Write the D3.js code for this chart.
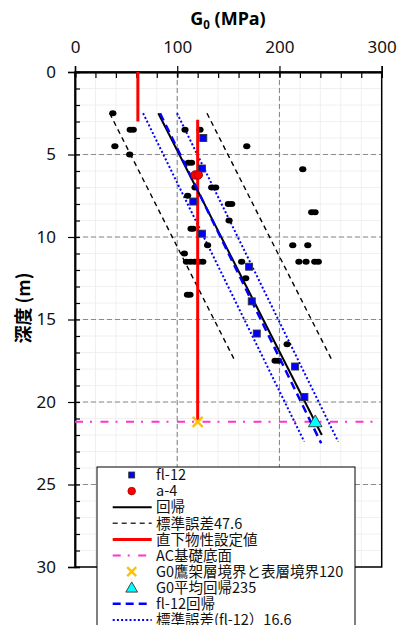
<!DOCTYPE html>
<html><head><meta charset="utf-8">
<script src="https://cdn.jsdelivr.net/npm/d3@7/dist/d3.min.js"></script>
<style>body{margin:0;background:#fff}svg{display:block}</style>
</head><body><svg id="c" width="400" height="625"></svg>
<script>
// ---- data ----
const xTicks = [0, 100, 200, 300];
const yTicks = [0, 5, 10, 15, 20, 25, 30];
// all measured points (black dots)
const dotDepth = [2.5, 3.5, 3.5, 3.5, 3.5, 4.5, 4.5, 5.0, 5.5, 5.5, 5.9, 7.0, 7.0, 7.0, 7.5, 8.0, 8.0, 8.5, 8.5, 9.0, 9.5, 9.5, 10.5, 10.5, 10.5, 11.0, 11.5, 11.5, 11.5, 11.5, 11.5, 11.5, 11.5, 11.5, 11.5, 11.5, 12.5, 13.5, 13.5, 16.5, 17.5, 17.5];
const dotG     = [37, 54, 57, 107.6, 122.3, 39, 168, 53.5, 111, 114, 222.8, 117.4, 133.7, 137.6, 110.2, 150, 153.3, 231.5, 234.8, 150.7, 113.5, 115.5, 129.7, 213, 227.7, 107, 109, 113, 117, 121, 125, 163, 219, 226, 234.5, 238, 167, 110, 112.5, 207.5, 195.7, 199];
// fl-12
const flDepth = [4.0, 5.85, 7.85, 9.8, 11.8, 13.9, 15.85, 17.85, 19.7];
const flG     = [125.5, 124.2, 115.7, 124.2, 170.3, 172.9, 177.8, 215.3, 224.4];
// a-4
const a4Depth = [6.24, 6.24];
const a4G     = [117.4, 120.6];
// regression (all)
const regDepth = [2.5, 22.0];
const regG     = [81.5, 241.4];
// standard error 47.6
const seDepth  = [2.5, 17.5];
const seLowG   = [33.9, 156.4];
const seHighG  = [129.1, 251.6];
// design value (red step)
const designTopDepth = [0, 3.0];
const designTopG     = [61.5, 61.5];
const designDepth    = [2.9, 21.2];
const designG        = [120, 120];
// AC base level
const acDepth = 21.2;
const acG     = [0, 293];
// boundary X and mean triangle
const crossPt = {g: 120, d: 21.2};
const triPt   = {g: 235, d: 21.2};
// fl-12 regression and its standard error 16.6
const flRegDepth = [2.5, 22.5];
const flRegG     = [83.2, 240.8];
const flSeDepth  = [2.5, 22.4];
const flSeLowG   = [66.6, 224.2];
const flSeHighG  = [99.8, 257.4];
const legendLabels = ["fl-12", "a-4", "回帰", "標準誤差47.6", "直下物性設定値", "AC基礎底面", "G0鷹架層境界と表層境界120", "G0平均回帰235", "fl-12回帰", "標準誤差(fl-12）16.6"];

// ---- chart ----
const svg = d3.select("#c");
const L = 75, R = 381.7, T = 72, B = 567;
const x = d3.scaleLinear().domain([0, 300]).range([L, R]);
const y = d3.scaleLinear().domain([0, 30]).range([T, B]);
const tickFont = "'Noto Sans', sans-serif";
const cjk = "'Noto Sans CJK JP', 'Noto Sans', sans-serif";

svg.append("rect").attr("x", L).attr("y", T).attr("width", R - L).attr("height", B - T).attr("fill", "#fff");

// minor grid
const minorX = d3.range(0, 301, 20), minorY = d3.range(0, 31, 1);
const g = svg.append("g");
g.selectAll(".mx").data(minorX).join("line").attr("x1", d => x(d)).attr("x2", d => x(d)).attr("y1", T).attr("y2", B).attr("stroke", "#ececec").attr("stroke-width", 0.8);
g.selectAll(".my").data(minorY).join("line").attr("y1", d => y(d)).attr("y2", d => y(d)).attr("x1", L).attr("x2", R).attr("stroke", "#ececec").attr("stroke-width", 0.8);
// major grid
g.selectAll(".Mx").data([100, 200]).join("line").attr("x1", d => x(d)).attr("x2", d => x(d)).attr("y1", T).attr("y2", B).attr("stroke", "#8a8a8a").attr("stroke-width", 1.1).attr("stroke-dasharray", "5,3");
g.selectAll(".My").data([5, 10, 15, 20, 25]).join("line").attr("y1", d => y(d)).attr("y2", d => y(d)).attr("x1", L).attr("x2", R).attr("stroke", "#8a8a8a").attr("stroke-width", 1.1).attr("stroke-dasharray", "5,3");

// frame
svg.append("rect").attr("x", L).attr("y", T).attr("width", R - L).attr("height", B - T).attr("fill", "none").attr("stroke", "#000").attr("stroke-width", 1.5);

// axes
svg.append("g").attr("transform", `translate(0,${T})`)
  .call(d3.axisTop(x).tickValues(xTicks).tickSize(6).tickPadding(13).tickFormat(d3.format("d")));
svg.append("g").attr("transform", `translate(0,${T})`)
  .call(d3.axisTop(x).tickValues(xTicks).tickSize(-5).tickFormat(""));
svg.append("g").attr("transform", `translate(0,${T})`)
  .call(d3.axisTop(x).tickValues(minorX).tickSize(-6).tickFormat(""));
svg.append("g").attr("transform", `translate(${L},0)`)
  .call(d3.axisLeft(y).tickValues(yTicks).tickSize(7).tickPadding(12).tickFormat(d3.format("d")));
svg.append("g").attr("transform", `translate(${L},0)`)
  .call(d3.axisLeft(y).tickValues(minorY).tickSize(-5).tickFormat(""));
svg.selectAll(".domain").attr("stroke", "#000").attr("stroke-width", 1.5);
svg.selectAll(".tick line").attr("stroke", "#000").attr("stroke-width", 1.2);
svg.selectAll(".tick text").attr("font-family", tickFont).attr("font-size", 17).attr("fill", "#111");

// titles
const tt = svg.append("text").attr("x", 228).attr("y", 25).attr("text-anchor", "middle")
  .attr("font-family", tickFont).attr("font-size", 18).attr("font-weight", "bold");
tt.append("tspan").text("G");
tt.append("tspan").text("0").attr("font-size", 11.5).attr("dy", 4);
tt.append("tspan").text(" (MPa)").attr("dy", -4);
svg.append("text").attr("transform", "translate(30,308) rotate(-90)").attr("text-anchor", "middle")
  .attr("font-family", cjk).attr("font-size", 18).attr("font-weight", "bold").text("深度 (m)");

const plot = svg.append("g");
const line2 = (gs, ds) => d3.line().x(d => x(d[0])).y(d => y(d[1]))(gs.map((v, i) => [v, ds[i]]));

// standard error (black dashed)
[seLowG, seHighG].forEach(arr => plot.append("path").attr("d", line2(arr, seDepth)).attr("fill", "none")
  .attr("stroke", "#000").attr("stroke-width", 1.4).attr("stroke-dasharray", "5,4"));
// fl-12 standard error dotted
[flSeLowG, flSeHighG].forEach(arr => plot.append("path").attr("d", line2(arr, flSeDepth)).attr("fill", "none")
  .attr("stroke", "#0000ff").attr("stroke-width", 2).attr("stroke-dasharray", "2,2.2"));
// AC base
plot.append("path").attr("d", line2(acG, [acDepth, acDepth])).attr("fill", "none")
  .attr("stroke", "#ff33cc").attr("stroke-width", 2).attr("stroke-dasharray", "8,7,2,8.5");

// black dots
plot.selectAll(".dot").data(dotG.map((v, i) => [v, dotDepth[i]])).join("ellipse")
  .attr("cx", d => x(d[0])).attr("cy", d => y(d[1])).attr("rx", 3.6).attr("ry", 3.0).attr("fill", "#000");

// red design lines
plot.append("path").attr("d", line2(designTopG, designTopDepth)).attr("fill", "none").attr("stroke", "#ff0000").attr("stroke-width", 3);
plot.append("path").attr("d", line2(designG, designDepth)).attr("fill", "none").attr("stroke", "#ff0000").attr("stroke-width", 3);

// regression black
plot.append("path").attr("d", line2(regG, regDepth)).attr("fill", "none").attr("stroke", "#000").attr("stroke-width", 2);
// fl-12 regression blue dashed
plot.append("path").attr("d", line2(flRegG, flRegDepth)).attr("fill", "none").attr("stroke", "#0000ff").attr("stroke-width", 2.5).attr("stroke-dasharray", "8,5");

// fl-12 squares
plot.selectAll(".sq").data(flG.map((v, i) => [v, flDepth[i]])).join("rect")
  .attr("x", d => x(d[0]) - 3.5).attr("y", d => y(d[1]) - 3.5).attr("width", 7).attr("height", 7)
  .attr("fill", "#0000ff").attr("stroke", "#333").attr("stroke-width", 0.9);
// a-4 circles
plot.selectAll(".a4").data(a4G.map((v, i) => [v, a4Depth[i]])).join("circle")
  .attr("cx", d => x(d[0])).attr("cy", d => y(d[1])).attr("r", 4.2).attr("fill", "#ff0000").attr("stroke", "#a00000").attr("stroke-width", 0.9);
// X
const drawX = (sel, cx, cy, s) => {
  sel.append("path").attr("d", `M${cx - s},${cy - s}L${cx + s},${cy + s}M${cx - s},${cy + s}L${cx + s},${cy - s}`)
    .attr("stroke", "#ffc000").attr("stroke-width", 2.4).attr("fill", "none");
};
drawX(plot, x(crossPt.g), y(crossPt.d), 5);
// triangle
const drawTri = (sel, cx, cy, sz) => sel.append("path").attr("d", d3.symbol().type(d3.symbolTriangle).size(sz)())
  .attr("transform", `translate(${cx},${cy + 1})`).attr("fill", "#00ffff").attr("stroke", "#333").attr("stroke-width", 0.9);
drawTri(plot, x(triPt.g), y(triPt.d), 80);

// legend
const lg = svg.append("g");
lg.append("rect").attr("x", 97).attr("y", 467).attr("width", 258).attr("height", 175).attr("fill", "#fff").attr("stroke", "#000").attr("stroke-width", 1);
const rowY = i => 475 + i * 16.1;
const sx = 131.7, lx1 = 112.7, lx2 = 151.7, tx = 156;
legendLabels.forEach((t, i) => {
  lg.append("text").attr("x", tx).attr("y", rowY(i)).attr("dy", "0.36em").attr("font-family", cjk).attr("font-size", 14.5).attr("fill", "#111").text(t);
});
lg.append("rect").attr("x", sx - 3).attr("y", rowY(0) - 3).attr("width", 6).attr("height", 6).attr("fill", "#0000ff").attr("stroke", "#333").attr("stroke-width", 0.8);
lg.append("circle").attr("cx", sx).attr("cy", rowY(1)).attr("r", 3.8).attr("fill", "#ff0000").attr("stroke", "#a00000").attr("stroke-width", 0.8);
const lgLine = (i, col, w, dash) => lg.append("line").attr("x1", lx1).attr("x2", lx2).attr("y1", rowY(i)).attr("y2", rowY(i))
  .attr("stroke", col).attr("stroke-width", w).attr("stroke-dasharray", dash);
lgLine(2, "#000", 2, null);
lgLine(3, "#333", 1.4, "5,4");
lgLine(4, "#ff0000", 3, null);
lgLine(5, "#ff33cc", 2, "8,7,2,8.5");
drawX(lg, sx, rowY(6), 4.5);
drawTri(lg, sx, rowY(7), 60);
lgLine(8, "#0000ff", 2.5, "8,5");
lgLine(9, "#0000ff", 2, "2,2.2");
</script></body></html>
